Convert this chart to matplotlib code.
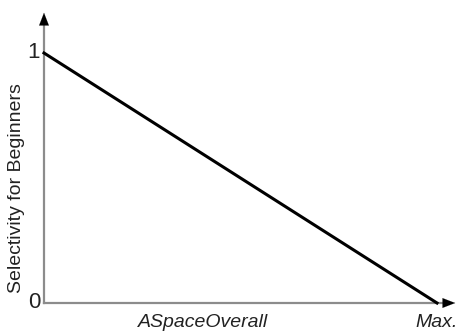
import matplotlib.pyplot as plt

plt.rcParams['font.family'] = ['Liberation Sans', 'DejaVu Sans']

# data: selectivity falls linearly from 1 to 0 as ASpaceOverall goes to max
x = [0, 1]
y = [1, 0]
y_ticks = [0, 1]
y_labels = ['0', '1']

W, H = 462, 331
fig = plt.figure(figsize=(W / 100, H / 100), dpi=100)
ax = fig.add_axes([44 / W, 28 / H, 393 / W, 250 / H])
ax.set_xlim(0, 1)
ax.set_ylim(0, 1)
for s in ax.spines.values():
    s.set_visible(False)
ax.set_xticks([])
ax.set_yticks([])

# axes with arrows
ytop = (303 - 10) / 250
xend = (458 - 44) / 393
ax.plot([0, 0], [0, ytop - 0.05], color='#8c8c8c', lw=1.6, clip_on=False)
ax.plot([0, xend - 0.03], [0, 0], color='#8c8c8c', lw=1.6, clip_on=False)
ax.annotate('', xy=(0, ytop), xytext=(0, ytop - 0.07),
            arrowprops=dict(arrowstyle='-|>,head_length=0.9,head_width=0.35',
                            color='black', lw=0.1), annotation_clip=False)
ax.annotate('', xy=(xend, 0), xytext=(xend - 0.04, 0),
            arrowprops=dict(arrowstyle='-|>,head_length=0.9,head_width=0.35',
                            color='black', lw=0.1), annotation_clip=False)

ax.plot(x, y, color='black', lw=2.2, clip_on=False)

for t, lab in zip(y_ticks, y_labels):
    ax.text(-0.01, t, lab, ha='right', va='center', fontsize=16,
            color='#222222')

ax.text(-0.069, 0.46, 'Selectivity for Beginners', rotation=90,
        ha='center', va='center', fontsize=14, transform=ax.transAxes,
        color='#222222')
ax.text(0.405, -0.045, 'ASpaceOverall', style='italic', ha='center', va='top',
        fontsize=14, color='#222222')
ax.text(1.0, -0.045, 'Max.', style='italic', ha='center', va='top',
        fontsize=14, color='#222222')

fig.savefig('out.png', dpi=100)
